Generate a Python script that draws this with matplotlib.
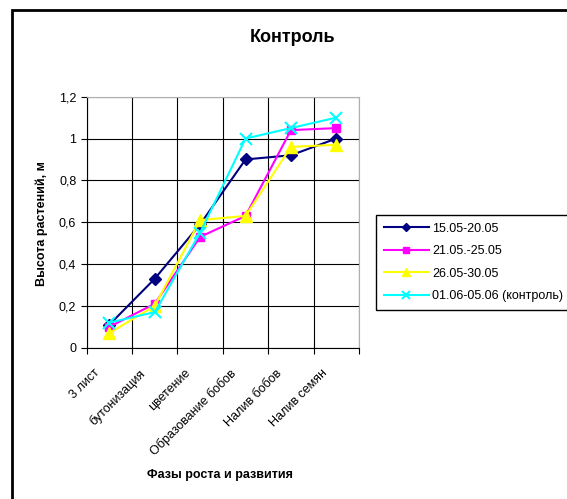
import matplotlib
matplotlib.use("Agg")
import matplotlib.pyplot as plt
from matplotlib.patches import Rectangle
from matplotlib.transforms import ScaledTranslation
import numpy as np

plt.rcParams['font.family'] = ['Liberation Sans', 'DejaVu Sans']

phases = ["3 лист", "бутонизация", "цветение", "Образование бобов", "Налив бобов", "Налив семян"]
s1 = [0.11, 0.33, 0.59, 0.90, 0.92, 1.00]
s2 = [0.10, 0.21, 0.53, 0.63, 1.04, 1.05]
s3 = [0.07, 0.20, 0.61, 0.63, 0.96, 0.97]
s4 = [0.12, 0.17, 0.55, 1.00, 1.05, 1.10]
labels = ["15.05-20.05", "21.05.-25.05", "26.05-30.05", "01.06-05.06 (контроль)"]
yticks = [0, 0.2, 0.4, 0.6, 0.8, 1.0, 1.2]
ytick_labels = ["0", "0,2", "0,4", "0,6", "0,8", "1", "1,2"]

fig = plt.figure(figsize=(5.67, 4.99), dpi=100)
ax = fig.add_axes([86.7/567, 1 - 347.7/499, (359 - 86.7)/567, (347.7 - 96.7)/499])

x = np.arange(1, len(phases) + 1)
ax.plot(x, s1, '-', color='#000080', marker='D', ms=6, lw=1.5, label=labels[0], zorder=3)
ax.plot(x, s2, '-', color='#FF00FF', marker='s', ms=6, lw=1.5, label=labels[1], zorder=3)
ax.plot(x, s3, '-', color='#FFFF00', marker='^', ms=8, lw=1.5, label=labels[2], zorder=3)
ax.plot(x, s4, '-', color='#00FFFF', marker='x', ms=8, mew=1.5, lw=1.5, label=labels[3], zorder=3)

ax.set_xlim(0.5, len(phases) + 0.5)
ax.set_ylim(0, 1.2)
ax.set_yticks(yticks)
ax.set_yticklabels(ytick_labels, fontsize=9)
ax.set_xticks(np.arange(0.5, len(phases) + 1, 1))
ax.set_xticklabels([])
ax.set_xticks(x, minor=True)
ax.set_xticklabels(phases, minor=True, rotation=45, ha='right', va='top', fontsize=9)
ax.tick_params(axis='x', which='minor', length=0, pad=14)
ax.tick_params(axis='both', which='major', direction='out', length=4, width=0.8, color='black')
for lab in ax.get_xticklabels(minor=True):
    lab.set_transform(lab.get_transform() + ScaledTranslation(-0.07, 0, fig.dpi_scale_trans))

ax.grid(True, which='major', color='black', lw=0.8)
ax.set_axisbelow(True)
ax.spines['top'].set_color('#B0B0B0')
ax.spines['right'].set_color('#B0B0B0')
ax.spines['left'].set_color('black')
ax.spines['bottom'].set_color('black')

fig.text(293/567, 1 - 37/499, "Контроль", fontsize=13, fontweight='bold', ha='center', va='center')
fig.text(42/567, 1 - 224/499, "Высота растений, м", fontsize=9, fontweight='bold',
         rotation=90, ha='center', va='center')
fig.text(220/567, 1 - 475/499, "Фазы роста и развития", fontsize=9, fontweight='bold',
         ha='center', va='center')

leg = fig.legend(loc='upper left', bbox_to_anchor=(376/567, 1 - 215/499), fontsize=9,
                 fancybox=False, edgecolor='black', framealpha=1, borderaxespad=0,
                 handlelength=3.6, handletextpad=0.3, labelspacing=0.85, borderpad=0.6,
                 markerscale=0.7)
leg.get_frame().set_linewidth(1.0)

fig.add_artist(Rectangle((12/567, -0.1), 1.2, 1 - 10/499 + 0.1, fill=False, lw=2,
                         edgecolor='black', transform=fig.transFigure))

fig.savefig("out.png", dpi=100)
